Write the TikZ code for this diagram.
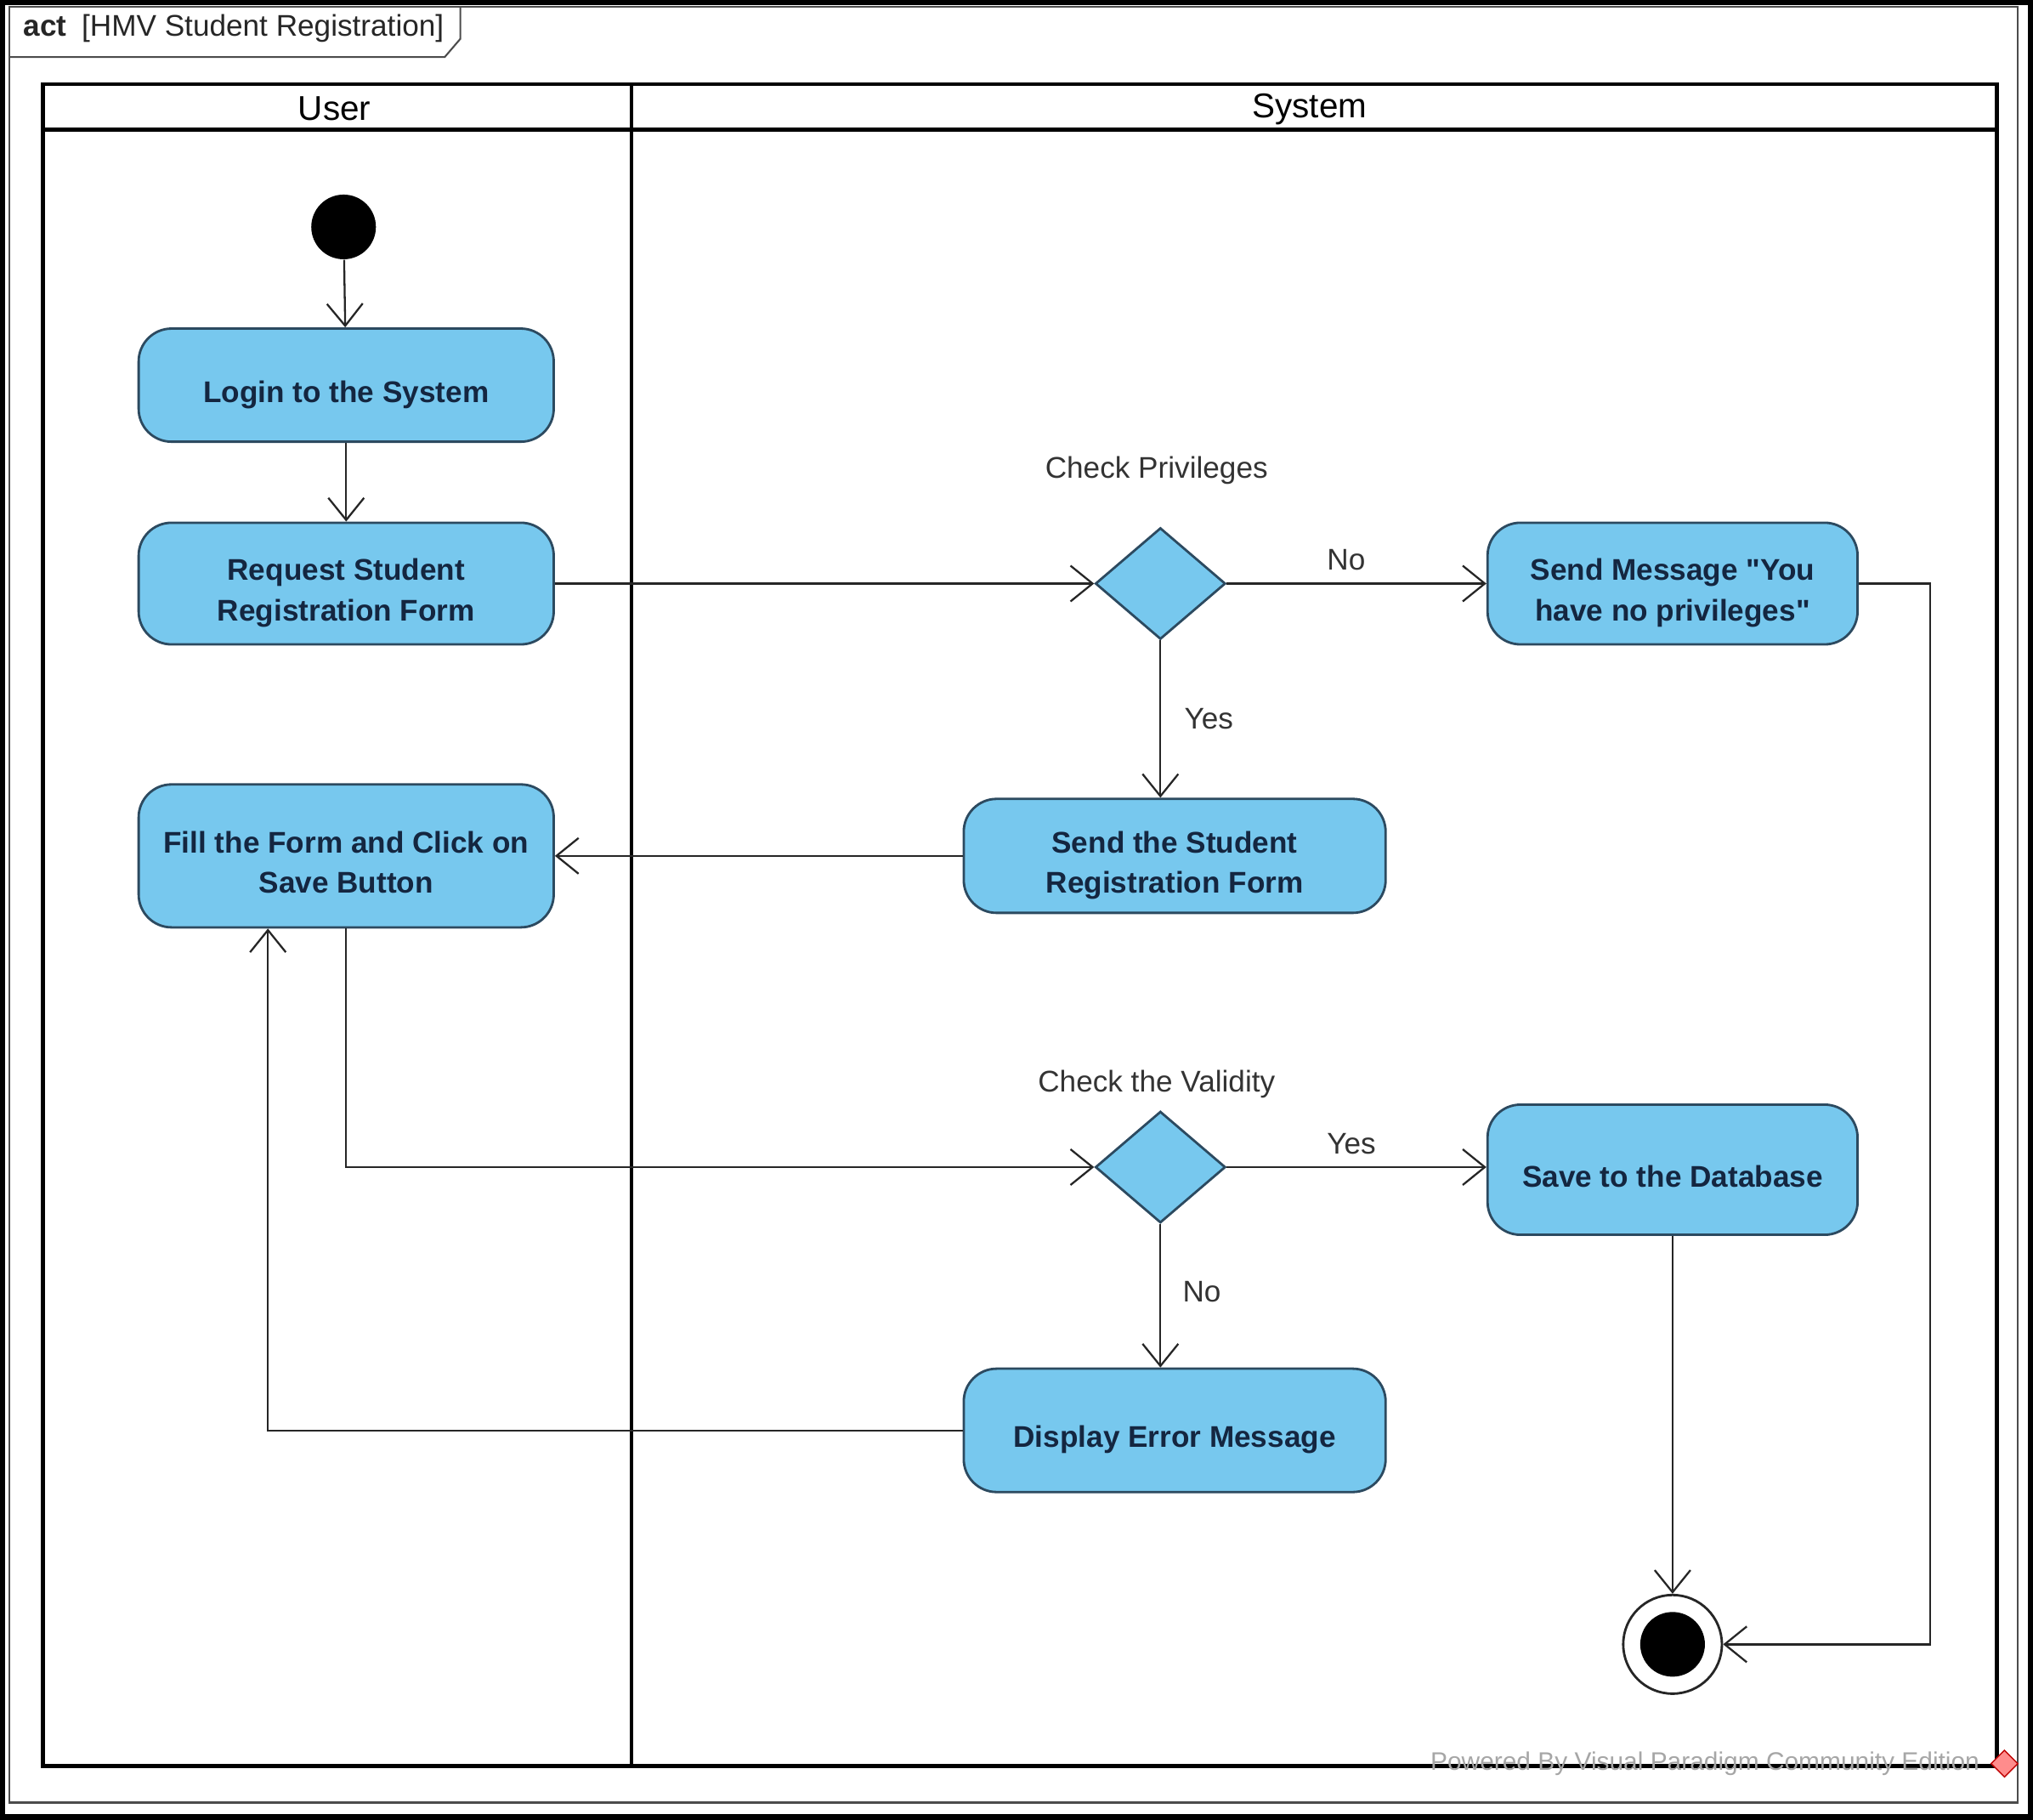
\documentclass[tikz,border=0pt]{standalone}
\usepackage{fontspec}
\setmainfont{Liberation Sans}
\usepackage{tikz}
\usetikzlibrary{arrows.meta,shapes.geometric}
\definecolor{actfill}{HTML}{77C8EE}
\definecolor{actline}{HTML}{2C4A60}
\definecolor{acttext}{HTML}{142640}
% action text, set a little below the middle of its box
\newcommand{\acttext}[1]{\raisebox{-3pt}[\height][\depth]{\begin{tabular}{@{}c@{}}#1\end{tabular}}}

\begin{document}
\begin{tikzpicture}[x=0.01525cm, y=-0.01525cm,
    action/.style={draw=actline, line width=0.8pt, fill=actfill, rounded corners=11pt,
        font=\fontsize{10}{13.5}\selectfont\bfseries, text=acttext, inner sep=0pt},
    decision/.style={diamond, draw=actline, line width=0.8pt, fill=actfill,
        minimum width=1.53cm, minimum height=1.31cm, inner sep=0pt},
    flow/.style={draw=black!85, line width=0.65pt, -{Straight Barb[length=2.6mm,width=4.2mm]}},
    guard/.style={font=\fontsize{10}{12}\selectfont, text=black!80, inner sep=0pt},
    lane/.style={line width=1.3pt}]
    \useasboundingbox (0,0) rectangle (1568,1403);
    % Outer border and diagram frame
    \draw[line width=3.5pt] (0,0) rectangle (1568,1403);
    \draw[black!70, line width=0.6pt] (7,5) rectangle (1556,1390);
    \draw[black!70, line width=0.6pt] (7,44) -- (343,44) -- (355,30) -- (355,5);
    \node[anchor=west, font=\fontsize{10}{12}\selectfont, text=black!85] (title) at (10,22)
        {\textbf{act}\enspace[HMV Student Registration]};
    % Swimlanes
    \draw[lane] (33,65) rectangle (1540,1362);
    \draw[lane] (33,100) -- (1540,100);
    \draw[lane] (487,65) -- (487,1362);
    \node[font=\fontsize{11.5}{14}\selectfont] (user) at (258,84) {User};
    \node[font=\fontsize{11.5}{14}\selectfont] (sys) at (1010,84) {System};
    % Start and end
    \node[circle, fill=black, minimum size=0.76cm, inner sep=0pt] (start) at (265,175) {};
    \node[circle, draw=black!85, line width=0.8pt, fill=white, minimum size=1.16cm, inner sep=0pt]
        (final) at (1290,1268) {};
    \node[circle, fill=black, minimum size=0.76cm, inner sep=0pt] (finaldot) at (final) {};
    % User actions
    \node[action, minimum width=4.88cm, minimum height=1.33cm] (login) at (267,297)
        {\acttext{Login to the System}};
    \node[action, minimum width=4.88cm, minimum height=1.43cm] (request) at (267,450)
        {\acttext{Request Student\\Registration Form}};
    \node[action, minimum width=4.88cm, minimum height=1.68cm] (fill) at (267,660)
        {\acttext{Fill the Form and Click on\\Save Button}};
    % System actions
    \node[decision] (priv) at (895,450) {};
    \node[guard] (privlbl) at (892,363) {Check Privileges};
    \node[action, minimum width=4.35cm, minimum height=1.43cm] (nomsg) at (1290,450)
        {\acttext{Send Message \textquotedbl You\\have no privileges\textquotedbl}};
    \node[action, minimum width=4.96cm, minimum height=1.34cm] (sendform) at (906,660)
        {\acttext{Send the Student\\Registration Form}};
    \node[decision] (valid) at (895,900) {};
    \node[guard] (validlbl) at (892,836) {Check the Validity};
    \node[action, minimum width=4.35cm, minimum height=1.53cm] (save) at (1290,902)
        {\acttext{Save to the Database}};
    \node[action, minimum width=4.96cm, minimum height=1.45cm] (error) at (906,1103)
        {\acttext{Display Error Message}};
    % Flows
    \draw[flow] (start) -- (login);
    \draw[flow] (login) -- (request);
    \draw[flow] (request.east) -- (priv.west);
    \draw[flow] (priv.east) -- node[guard, pos=0.46, above=1.4mm] {No} (nomsg.west);
    \draw[flow] (priv.south) -- node[guard, right=2.7mm] {Yes} (sendform.north -| priv.south);
    \draw[flow] (sendform.west) -- (fill.east |- sendform.west);
    \draw[flow] (fill.south) |- (valid.west);
    \draw[flow] (valid.east) -- node[guard, pos=0.48, above=1.4mm] {Yes} (save.west |- valid.east);
    \draw[flow] (valid.south) -- node[guard, pos=0.47, right=2.5mm] {No} (error.north -| valid.south);
    \draw[flow] (error.west) -| ([xshift=-0.92cm]fill.south);
    \draw[flow] (save.south) -- (final.north);
    \draw[flow] (nomsg.east) -- ++(55,0) |- (final.east);
    % Watermark
    \node[text=black!35, font=\fontsize{8.5}{10}\selectfont] (wm) at (1315,1360)
        {Powered By Visual Paradigm Community Edition};
    \node[diamond, draw=red!75!black, fill=red!45, minimum size=0.32cm, inner sep=0pt]
        (vplogo) at (1546,1360) {};
\end{tikzpicture}
\end{document}
